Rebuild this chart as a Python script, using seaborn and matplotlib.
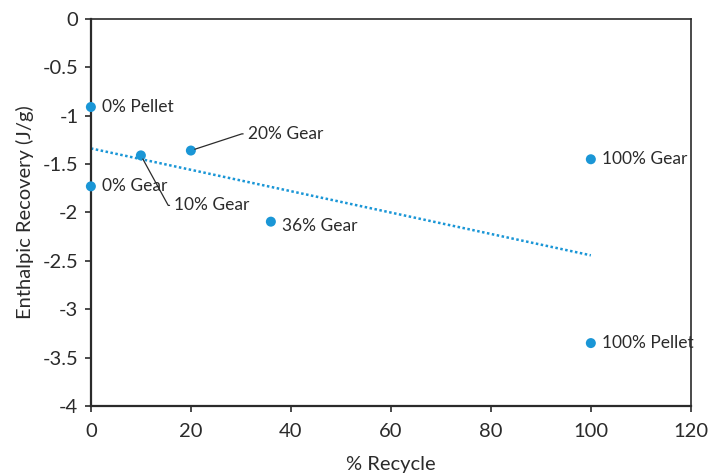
import matplotlib
matplotlib.use("Agg")
from matplotlib import pyplot as plt
import pandas as pd
import seaborn as sns

# values
labels = ["0% Pellet", "0% Gear", "10% Gear", "20% Gear", "36% Gear", "100% Gear", "100% Pellet"]
recycle = [0, 0, 10, 20, 36, 100, 100]
recovery = [-0.91, -1.73, -1.41, -1.36, -2.095, -1.45, -3.35]

x_ticks = [0, 20, 40, 60, 80, 100, 120]
y_ticks = [0, -0.5, -1, -1.5, -2, -2.5, -3, -3.5, -4]

df = pd.DataFrame({"label": labels, "recycle": recycle, "recovery": recovery})

sns.set_style("ticks")
plt.rcParams["font.family"] = ["Lato", "DejaVu Sans"]
plt.rcParams["axes.unicode_minus"] = False

blue = "#1a96d6"
dark = "#2b2b2b"

fig = plt.figure(figsize=(7.1, 4.74), dpi=100)
ax = fig.add_axes([0.128, 0.1435, 0.845, 0.8165])

# linear trend over the data range
sns.regplot(
    x="recycle", y="recovery", data=df, ax=ax, scatter=False, ci=None,
    truncate=True, line_kws={"color": blue, "lw": 1.8, "ls": (0, (1, 1))},
)
sns.scatterplot(
    x="recycle", y="recovery", data=df, ax=ax, color=blue, s=52,
    edgecolor="none", zorder=3, clip_on=False,
)

# label offsets in points (dx, dy) and whether a leader line is drawn
offsets = {
    "0% Pellet": (8, 0, False),
    "0% Gear": (8, 0, False),
    "10% Gear": (24, -36, True),
    "20% Gear": (41, 12, True),
    "36% Gear": (8, -3, False),
    "100% Gear": (8, 0, False),
    "100% Pellet": (8, 0, False),
}
for _, row in df.iterrows():
    dx, dy, leader = offsets[row["label"]]
    arrow = None
    if leader:
        arrow = dict(
            arrowstyle="-", color=dark, lw=0.9, relpos=(0, 0.5),
            connectionstyle="arc,angleA=180,armA=6,armB=0,rad=0",
            shrinkA=1, shrinkB=3,
        )
    ax.annotate(
        row["label"], xy=(row["recycle"], row["recovery"]),
        xytext=(dx, dy), textcoords="offset points", ha="left", va="center",
        fontsize=12.5, color=dark, arrowprops=arrow,
    )

ax.set_xlim(0, 120)
ax.set_ylim(-4, 0)
ax.set_xticks(x_ticks)
ax.set_yticks(y_ticks)
ax.set_xticklabels([f"{t:g}" for t in x_ticks])
ax.set_yticklabels([f"{t:g}" for t in y_ticks])
ax.tick_params(axis="both", labelsize=14.5, colors=dark, length=4, width=1.2, pad=5)
ax.tick_params(axis="x", pad=8)
ax.set_xlabel("% Recycle", fontsize=14.5, color=dark, labelpad=12)
ax.set_ylabel("Enthalpic Recovery (J/g)", fontsize=14.5, color=dark, labelpad=6)

for side in ["left", "bottom"]:
    ax.spines[side].set_color(dark)
    ax.spines[side].set_linewidth(1.6)
for side in ["top", "right"]:
    ax.spines[side].set_visible(True)
    ax.spines[side].set_color(dark)
    ax.spines[side].set_linewidth(1.2)

fig.savefig("out.png", dpi=100)
